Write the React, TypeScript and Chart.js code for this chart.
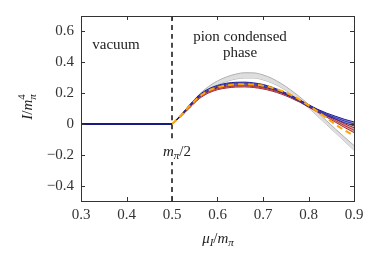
import React, { useEffect, useRef } from 'react';
import { Chart, registerables } from 'chart.js';
Chart.register(...registerables);

const xs = [0.5, 0.52, 0.54, 0.56, 0.58, 0.6, 0.62, 0.64, 0.66, 0.68, 0.7, 0.72, 0.74, 0.76, 0.78, 0.8, 0.82, 0.84, 0.86, 0.88, 0.9];
const vacuumX = [0.3, 0.5];
const vacuumY = [0, 0];
const grayUpper = [0, 0.058, 0.128, 0.192, 0.242, 0.279, 0.305, 0.323, 0.332, 0.331, 0.318, 0.295, 0.262, 0.222, 0.177, 0.127, 0.074, 0.02, -0.035, -0.088, -0.14];
const grayLower = [0, 0.056, 0.123, 0.182, 0.224, 0.254, 0.276, 0.291, 0.298, 0.298, 0.286, 0.265, 0.236, 0.198, 0.153, 0.104, 0.05, -0.005, -0.06, -0.115, -0.17];
const blueUpper = [0, 0.06, 0.128, 0.188, 0.227, 0.25, 0.264, 0.27, 0.271, 0.266, 0.256, 0.238, 0.215, 0.188, 0.157, 0.124, 0.095, 0.07, 0.049, 0.029, 0.013];
const blueMid = [0, 0.057, 0.123, 0.182, 0.221, 0.244, 0.258, 0.264, 0.265, 0.26, 0.25, 0.233, 0.21, 0.183, 0.152, 0.118, 0.088, 0.062, 0.04, 0.018, 0.0];
const blueLower = [0, 0.054, 0.118, 0.176, 0.215, 0.238, 0.252, 0.258, 0.259, 0.254, 0.244, 0.228, 0.205, 0.178, 0.147, 0.112, 0.081, 0.054, 0.031, 0.007, -0.013];
const redUpper = [0, 0.055, 0.118, 0.176, 0.212, 0.234, 0.245, 0.251, 0.252, 0.248, 0.239, 0.225, 0.206, 0.182, 0.154, 0.124, 0.093, 0.062, 0.03, 0.0, -0.024];
const redMid = [0, 0.052, 0.113, 0.17, 0.206, 0.228, 0.239, 0.245, 0.246, 0.242, 0.233, 0.219, 0.2, 0.176, 0.148, 0.117, 0.085, 0.053, 0.02, -0.012, -0.04];
const redLower = [0, 0.049, 0.108, 0.164, 0.2, 0.222, 0.233, 0.239, 0.24, 0.236, 0.227, 0.213, 0.194, 0.17, 0.142, 0.11, 0.077, 0.044, 0.01, -0.024, -0.056];
const orangeMid = [0, 0.055, 0.12, 0.177, 0.215, 0.237, 0.25, 0.257, 0.258, 0.255, 0.248, 0.235, 0.215, 0.19, 0.158, 0.12, 0.08, 0.038, -0.005, -0.042, -0.077];
const thresholdX = [0.5, 0.5];
const thresholdY = [-0.5, 0.7];
const xTicks = [0.3, 0.4, 0.5, 0.6, 0.7, 0.8, 0.9];
const yTicks = [-0.4, -0.2, 0, 0.2, 0.4, 0.6];

const FONT = '"Liberation Serif", "Times New Roman", serif';

const pts = (xv: number[], yv: number[]) => xv.map((x, i) => ({ x, y: yv[i] }));

type Seg = { t: string; it?: boolean; s?: number; dy?: number; stack?: boolean };

function drawRich(ctx: CanvasRenderingContext2D, segs: Seg[], x: number, y: number, align: 'left' | 'center') {
  const font = (sg: Seg) => `${sg.it ? 'italic ' : ''}${sg.s ?? 15}px ${FONT}`;
  let total = 0;
  let prevStart = 0;
  let prevW = 0;
  const pos: number[] = [];
  for (const sg of segs) {
    ctx.font = font(sg);
    const w = ctx.measureText(sg.t).width;
    if (sg.stack) {
      pos.push(prevStart);
      const nw = Math.max(prevW, w);
      total = prevStart + nw;
      prevW = nw;
    } else {
      pos.push(total);
      prevStart = total;
      prevW = w;
      total += w;
    }
  }
  const x0 = align === 'center' ? x - total / 2 : x;
  ctx.textAlign = 'left';
  ctx.textBaseline = 'alphabetic';
  segs.forEach((sg, i) => {
    ctx.font = font(sg);
    ctx.fillText(sg.t, x0 + pos[i], y + (sg.dy ?? 0));
  });
  return total;
}

const overlay = {
  id: 'overlay',
  afterDraw(chart: any) {
    const { ctx, chartArea: a, scales } = chart;
    const xs_ = scales.x;
    const ys_ = scales.y;
    ctx.save();
    ctx.strokeStyle = '#333';
    ctx.lineWidth = 1;
    ctx.strokeRect(Math.round(a.left) + 0.5, Math.round(a.top) + 0.5, Math.round(a.right - a.left), Math.round(a.bottom - a.top));
    ctx.beginPath();
    const tl = 4;
    for (const v of xTicks) {
      const px = Math.round(xs_.getPixelForValue(v)) + 0.5;
      ctx.moveTo(px, a.bottom);
      ctx.lineTo(px, a.bottom - tl);
      ctx.moveTo(px, a.top);
      ctx.lineTo(px, a.top + tl);
    }
    for (const v of yTicks) {
      const py = Math.round(ys_.getPixelForValue(v)) + 0.5;
      ctx.moveTo(a.left, py);
      ctx.lineTo(a.left + tl, py);
      ctx.moveTo(a.right, py);
      ctx.lineTo(a.right - tl, py);
    }
    ctx.stroke();

    ctx.fillStyle = '#222';
    drawRich(ctx, [{ t: 'vacuum' }], 116, 49, 'center');
    drawRich(ctx, [{ t: 'pion condensed' }], 240, 41, 'center');
    drawRich(ctx, [{ t: 'phase' }], 240, 57, 'center');
    ctx.fillStyle = '#fff';
    ctx.fillRect(158, 141, 38, 21);
    ctx.fillStyle = '#222';
    drawRich(ctx, [{ t: 'm', it: true }, { t: 'π', it: true, s: 11, dy: 3 }, { t: '/2' }], 177, 156, 'center');
    drawRich(ctx, [{ t: 'μ', it: true }, { t: 'I', it: true, s: 11, dy: 3 }, { t: '/' }, { t: 'm', it: true }, { t: 'π', it: true, s: 11, dy: 3 }], 218, 243, 'center');
    ctx.translate(32, 107);
    ctx.rotate(-Math.PI / 2);
    drawRich(ctx, [{ t: 'I', it: true }, { t: '/' }, { t: 'm', it: true }, { t: 'π', it: true, s: 11, dy: 4 }, { t: '4', s: 11, dy: -7, stack: true }], 0, 0, 'center');
    ctx.restore();
  },
};

export default function App() {
  const ref = useRef<HTMLCanvasElement>(null);
  useEffect(() => {
    let chart: Chart | null = null;
    let cancelled = false;
    const build = () => {
      if (cancelled || !ref.current) return;
      chart = new Chart(ref.current, {
        type: 'line',
        data: {
          datasets: [
            { data: pts(vacuumX, vacuumY), borderColor: 'rgb(25,25,130)', borderWidth: 2, pointRadius: 0, order: 0 } as any,
            { data: pts(xs, orangeMid), borderColor: 'rgb(255,165,0)', borderWidth: 2, borderDash: [6, 4], pointRadius: 0, order: 1 },
            { data: pts(xs, blueUpper), borderColor: 'rgb(30,30,140)', borderWidth: 1, pointRadius: 0, fill: '+2', backgroundColor: 'rgba(70,70,200,0.55)', order: 2 },
            { data: pts(xs, blueMid), borderColor: 'rgb(30,30,140)', borderWidth: 1, pointRadius: 0, order: 3 },
            { data: pts(xs, blueLower), borderColor: 'rgb(30,30,140)', borderWidth: 1, pointRadius: 0, order: 4 },
            { data: pts(xs, redUpper), borderColor: 'rgb(150,30,35)', borderWidth: 1, pointRadius: 0, fill: '+2', backgroundColor: 'rgba(200,80,85,0.55)', order: 5 },
            { data: pts(xs, redMid), borderColor: 'rgb(150,30,35)', borderWidth: 1, pointRadius: 0, order: 6 },
            { data: pts(xs, redLower), borderColor: 'rgb(150,30,35)', borderWidth: 1, pointRadius: 0, order: 7 },
            { data: pts(xs, grayUpper), borderColor: 'rgb(175,175,175)', borderWidth: 1, pointRadius: 0, fill: '+1', backgroundColor: 'rgb(222,222,222)', order: 8 },
            { data: pts(xs, grayLower), borderColor: 'rgb(175,175,175)', borderWidth: 1, pointRadius: 0, order: 9 },
            { data: pts(thresholdX, thresholdY), borderColor: '#111', borderWidth: 1.5, borderDash: [5, 4], pointRadius: 0, order: 10 },
          ],
        },
        options: {
          animation: false,
          responsive: false,
          maintainAspectRatio: false,
          layout: { padding: { left: 0, top: 13, right: 28, bottom: 0 } },
          plugins: { legend: { display: false }, tooltip: { enabled: false }, filler: { propagate: false } },
          elements: { line: { tension: 0.4, cubicInterpolationMode: 'monotone' } },
          scales: {
            x: {
              type: 'linear',
              min: 0.3,
              max: 0.9,
              grid: { display: false, drawTicks: false },
              border: { display: false },
              afterFit: (s: any) => { s.height = 59; },
              afterBuildTicks: (s: any) => { s.ticks = xTicks.map((v) => ({ value: v })); },
              ticks: {
                padding: 5,
                color: '#333',
                font: { family: FONT, size: 15 },
                maxRotation: 0,
                callback: (v: any) => Number(v).toFixed(1),
              },
            },
            y: {
              type: 'linear',
              min: -0.5,
              max: 0.7,
              grid: { display: false, drawTicks: false },
              border: { display: false },
              afterFit: (s: any) => { s.width = 81; },
              afterBuildTicks: (s: any) => { s.ticks = yTicks.map((v) => ({ value: v })); },
              ticks: {
                padding: 7,
                color: '#333',
                font: { family: FONT, size: 15 },
                callback: (v: any) => {
                  const n = Number(v);
                  if (Math.abs(n) < 1e-9) return '0';
                  return (n < 0 ? '\u2212' : '') + Math.abs(n).toFixed(1);
                },
              },
            },
          },
        },
        plugins: [overlay],
      });
    };
    const fonts: any = (document as any).fonts;
    if (fonts && fonts.load) {
      Promise.all([
        fonts.load('15px "Liberation Serif"'),
        fonts.load('italic 15px "Liberation Serif"'),
        fonts.load('11px "Liberation Serif"'),
      ]).then(build, build);
    } else {
      build();
    }
    return () => {
      cancelled = true;
      if (chart) chart.destroy();
    };
  }, []);
  return (
    <div style={{ position: 'fixed', left: 0, top: 0, width: 382, height: 260, background: '#fff' }}>
      <canvas ref={ref} width={382} height={260} style={{ width: 382, height: 260, display: 'block' }} />
    </div>
  );
}
